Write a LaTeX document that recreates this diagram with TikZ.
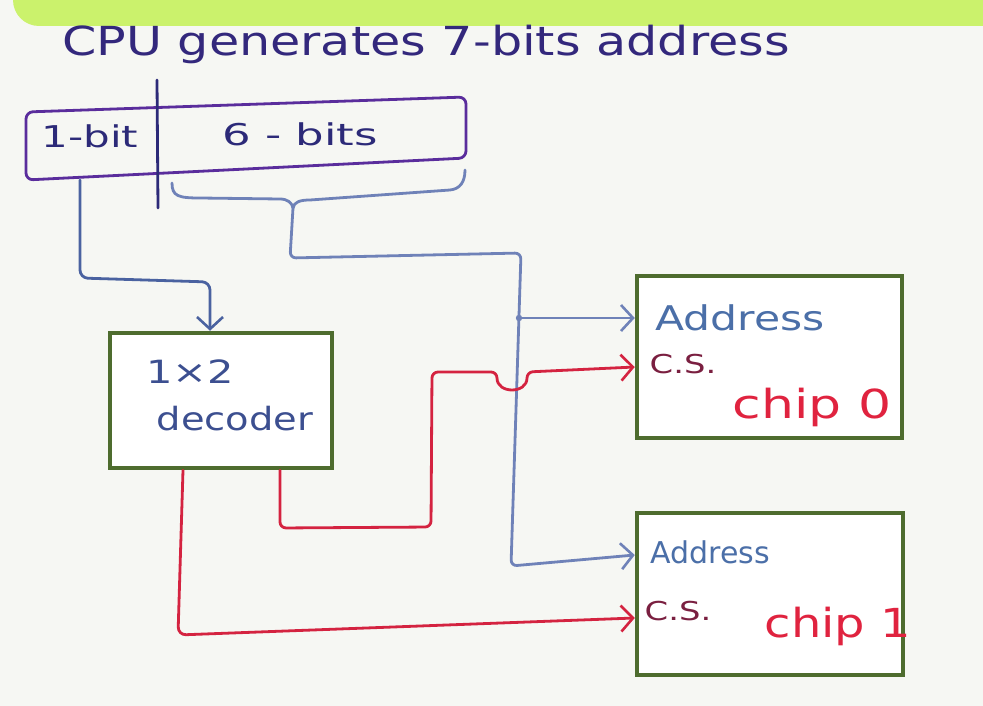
\documentclass[tikz,border=0pt]{standalone}
\usepackage{fontspec}
\usepackage{graphicx}
\setmainfont{DejaVu Sans}
\usetikzlibrary{arrows.meta,calc}
\definecolor{bgc}{HTML}{F6F7F3}
\definecolor{barc}{HTML}{CBF26C}
\definecolor{titlec}{HTML}{33287C}
\definecolor{regc}{HTML}{5A2D9C}
\definecolor{navyc}{HTML}{2C2A78}
\definecolor{wireblue}{HTML}{6F82B8}
\definecolor{wirenavy}{HTML}{4A62A0}
\definecolor{boxgreen}{HTML}{4E6C2E}
\definecolor{wirered}{HTML}{D42340}
\definecolor{addrc}{HTML}{4B6FA8}
\definecolor{csc}{HTML}{7A1F40}
\definecolor{chipc}{HTML}{E0233F}
\definecolor{decc}{HTML}{3C4F90}
\begin{document}
\begin{tikzpicture}[x=1pt,y=-1pt,
  hand/.style={line width=2.8pt, line cap=round, line join=round},
  bl/.style={hand, draw=wireblue},
  rd/.style={hand, draw=wirered},
  tip/.style={-{Straight Barb[length=12pt,width=26pt,line width=2.6pt]}},
  box/.style={draw=boxgreen, line width=4.5pt, fill=white, inner sep=0pt},
  txt/.style={inner sep=0pt, anchor=base}]
\useasboundingbox (0,0) rectangle (983,706);
\clip (0,0) rectangle (983,706);
\fill[bgc] (0,0) rectangle (983,706);
\fill[barc, rounded corners=26pt] (13,-60) -- (13,26) -- (1010,26) -- (1010,-60) -- cycle;

% title
\node[txt, text=titlec, font=\fontsize{40}{44}\selectfont] (title) at (426,56) {\scalebox{1.23}[1]{CPU generates 7-bits address}};

% register
\draw[hand, draw=regc, rounded corners=7pt] (26,112) -- (466,97) -- (466,158) -- (26,180) -- cycle;
\draw[hand, draw=navyc] (157,80) -- (158,208);
\node[txt, text=navyc, font=\fontsize{30}{34}\selectfont] (bit1) at (90,148) {\scalebox{1.4}[1]{1-bit}};
\node[txt, text=navyc, font=\fontsize{30}{34}\selectfont] (bits6) at (300,146) {\scalebox{1.5}[1]{6 - bits}};

% brace
\coordinate (cusp) at (293,208);
\draw[bl] (172,183) .. controls (172,196) and (178,198) .. (200,198) -- (280,199) .. controls (288,199) and (292,203) .. (cusp);
\draw[bl] (cusp) .. controls (294,202) and (300,200) .. (310,200) -- (450,190) .. controls (460,189) and (465,182) .. (465,170);

% boxes
\node[box, minimum width=222pt, minimum height=135pt] (dec) at (221,400.5) {};
\node[box, minimum width=265pt, minimum height=162pt] (chip0) at (769.5,357) {};
\node[box, minimum width=266pt, minimum height=162pt] (chip1) at (770,594) {};

\node[txt, text=decc, font=\fontsize{32}{36}\selectfont] (d1) at (190,383) {\scalebox{1.3}[1]{1×2}};
\node[txt, text=decc, font=\fontsize{32}{36}\selectfont] (d2) at (235,430) {\scalebox{1.2}[1]{decoder}};

\node[txt, text=addrc, font=\fontsize{34}{38}\selectfont] (a0) at (740,330) {\scalebox{1.25}[1]{Address}};
\node[txt, text=csc, font=\fontsize{26}{30}\selectfont] (cs0) at (683,373) {\scalebox{1.3}[1]{C.S.}};
\node[txt, text=chipc, font=\fontsize{40}{44}\selectfont] (ch0) at (812,418) {\scalebox{1.3}[1]{chip 0}};
\node[txt, text=addrc, font=\fontsize{30}{34}\selectfont] (a1) at (710,563) {\scalebox{1.0}[1]{Address}};
\node[txt, text=csc, font=\fontsize{26}{30}\selectfont] (cs1) at (678,620) {\scalebox{1.3}[1]{C.S.}};
\node[txt, text=chipc, font=\fontsize{40}{44}\selectfont] (ch1) at (838,637) {\scalebox{1.2}[1]{chip 1}};

% 1-bit line to decoder
\draw[hand, draw=wirenavy, tip, rounded corners=8pt] (80,180) -- (80,278) -- (210,282) -- (210,0 |- dec.north);

% address bus
\coordinate (c0a) at (chip0.west |- 0,318);
\coordinate (c1a) at (chip1.west |- 0,555);
\draw[bl, tip, rounded corners=6pt] (cusp) -- (290,258) -- (521,253) -- (511,566) -- (c1a);
\draw[bl, tip] (519,318) -- (c0a);
\fill[wireblue] (519,318) circle (3.2pt);

% chip select lines
\coordinate (c0cs) at (chip0.west |- 0,367);
\coordinate (c1cs) at (chip1.west |- 0,618);
\draw[rd, tip, rounded corners=6pt] (dec.south -| 280,0) -- (280,528) -- (431,527) -- (432,372) -- (497,372) .. controls (497,394) and (527,394) .. (527,372) -- (c0cs);
\draw[rd, tip, rounded corners=8pt] (dec.south -| 183,0) -- (178,635) -- (c1cs);
\end{tikzpicture}
\end{document}
